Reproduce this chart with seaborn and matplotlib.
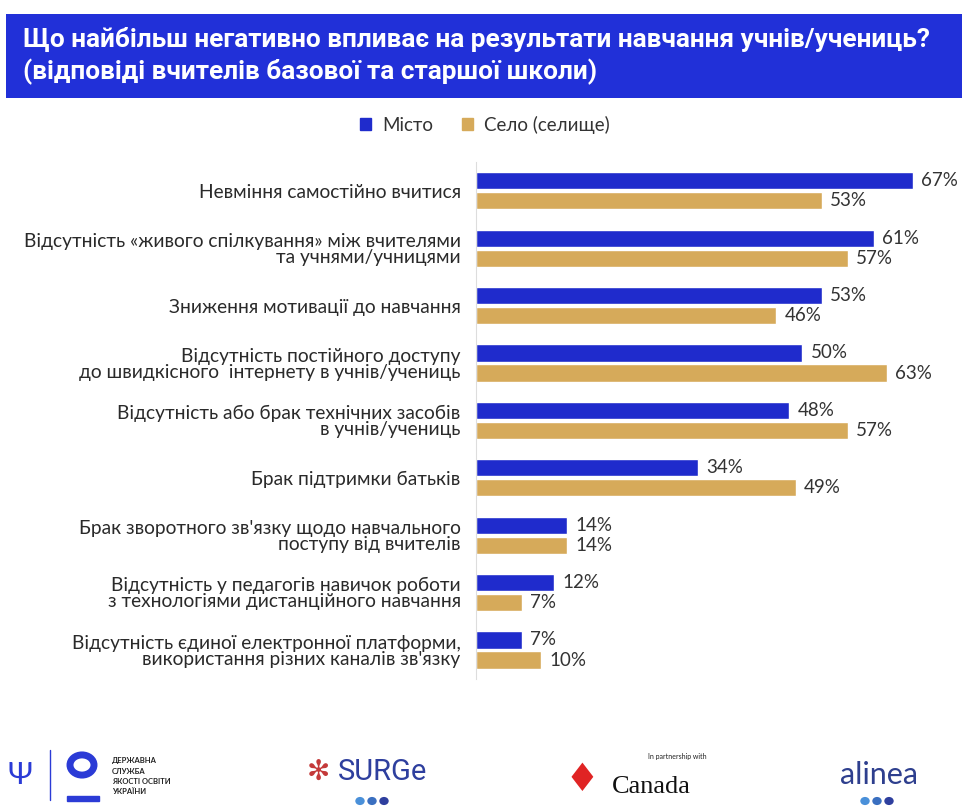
import pandas as pd
import matplotlib.pyplot as plt
import seaborn as sns
from matplotlib.patches import Rectangle, Circle

# Дані з графіка
categories = [
    "Невміння самостійно вчитися",
    "Відсутність «живого спілкування» між вчителями\nта учнями/учницями",
    "Зниження мотивації до навчання",
    "Відсутність постійного доступу\nдо швидкісного  інтернету в учнів/учениць",
    "Відсутність або брак технічних засобів\nв учнів/учениць",
    "Брак підтримки батьків",
    "Брак зворотного зв'язку щодо навчального\nпоступу від вчителів",
    "Відсутність у педагогів навичок роботи\nз технологіями дистанційного навчання",
    "Відсутність єдиної електронної платформи,\nвикористання різних каналів зв'язку",
]
city = [67, 61, 53, 50, 48, 34, 14, 12, 7]
village = [53, 57, 46, 63, 57, 49, 14, 7, 10]
groups = ["Місто", "Село (селище)"]
colors = ["#1f2bcc", "#d6aa5a"]

title_text = ("Що найбільш негативно впливає на результати навчання учнів/учениць?\n"
              "(відповіді вчителів базової та старшої школи)")

df = pd.DataFrame({
    "cat": categories * 2,
    "val": city + village,
    "grp": [groups[0]] * len(categories) + [groups[1]] * len(categories),
})

sns.set_style("white")
plt.rcParams['font.family'] = ['Lato', 'DejaVu Sans']

fig = plt.figure(figsize=(9.65, 8.1), dpi=100)
W, H = 965, 810

def fx(px):
    return px / W

def fy(py):
    return 1 - py / H

# Синій банер заголовка
fig.patches.append(Rectangle((fx(6), fy(98)), fx(956), 84 / H, transform=fig.transFigure,
                             facecolor="#2130d8", edgecolor="none", zorder=0))
title = fig.text(fx(23), fy(56), title_text, color="white", fontsize=16, fontweight="bold",
                 family=['Roboto', 'DejaVu Sans'], va="center", ha="left", linespacing=1.3)
# підігнати ширину заголовка під банер
renderer = fig.canvas.get_renderer()
tw = title.get_window_extent(renderer).width
title.set_fontsize(16 * 912 / tw)

ax = fig.add_axes([fx(476), fy(678.7), 482.7 / W, 516.6 / H])
sns.barplot(data=df, y="cat", x="val", hue="grp", orient="h", palette=colors,
            width=0.7, gap=0.14, ax=ax, legend=False, saturation=1)

for cont in ax.containers:
    ax.bar_label(cont, fmt="%d%%", padding=6, fontsize=13.5, color="#333333")

ax.set_xlim(0, 74)
ax.set_xlabel("")
ax.set_ylabel("")
ax.set_xticks([])
for s in ["top", "right", "bottom"]:
    ax.spines[s].set_visible(False)
ax.spines["left"].set_color("#dddddd")
ax.tick_params(axis="y", length=0, pad=11)
for lbl in ax.get_yticklabels():
    lbl.set_fontsize(13.8)
    lbl.set_color("#2a2a2a")
    lbl.set_multialignment("right")
    lbl.set_linespacing(0.95)

# Легенда
handles = [Rectangle((0, 0), 1, 1, color=c) for c in colors]
fig.legend(handles, groups, loc="center", bbox_to_anchor=(fx(485), fy(125)), ncol=2,
           frameon=False, fontsize=13.5, handlelength=0.6, handleheight=0.6,
           columnspacing=1.5, handletextpad=0.6, labelcolor="#333333")

# Логотипи внизу (спрощено)
blue = "#2b3bd6"
fig.text(fx(20), fy(775), "Ψ", fontsize=22, color=blue, va="center", ha="center")
fig.lines.append(plt.Line2D([fx(50), fx(50)], [fy(750), fy(800)], transform=fig.transFigure,
                            color=blue, lw=1))
fig.patches.append(Circle((fx(82), fy(765)), 12 / W, transform=fig.transFigure, fill=False,
                          edgecolor=blue, lw=5))
fig.patches.append(Rectangle((fx(67), fy(801)), fx(32), 5 / H, transform=fig.transFigure,
                             color=blue))
fig.text(fx(112), fy(776), "ДЕРЖАВНА\nСЛУЖБА\nЯКОСТІ ОСВІТИ\nУКРАЇНИ", fontsize=5.5,
         fontweight="bold", color="#222222", va="center", ha="left", linespacing=1.5)
fig.text(fx(338), fy(772), "SURGe", fontsize=21, color="#2e3f9e", va="center", ha="left",
         family=['Roboto', 'DejaVu Sans'])
fig.text(fx(318), fy(772), "✻", fontsize=20, color="#c43a3a", va="center", ha="center",
         family=['DejaVu Sans'])
for i, c in enumerate(["#4a90d9", "#3a6fc0", "#2e3f9e"]):
    fig.patches.append(Circle((fx(360 + i * 12), fy(801)), 4 / W, transform=fig.transFigure,
                              color=c))
fig.text(fx(582), fy(780), "♦", fontsize=28, color="#e02424", va="center", ha="center",
         family=['DejaVu Sans'])
fig.text(fx(648), fy(757), "In partnership with", fontsize=5, color="#222222", va="center",
         ha="left")
fig.text(fx(612), fy(787), "Canada", fontsize=19, color="#111111", va="center", ha="left",
         family=['Liberation Serif', 'DejaVu Serif'])
fig.text(fx(840), fy(775), "alinea", fontsize=22, color="#2e3f8e", va="center", ha="left")
for i, c in enumerate(["#4a90d9", "#3a6fc0", "#2e3f9e"]):
    fig.patches.append(Circle((fx(865 + i * 12), fy(801)), 4 / W, transform=fig.transFigure,
                              color=c))

fig.savefig("out.png", dpi=100)
